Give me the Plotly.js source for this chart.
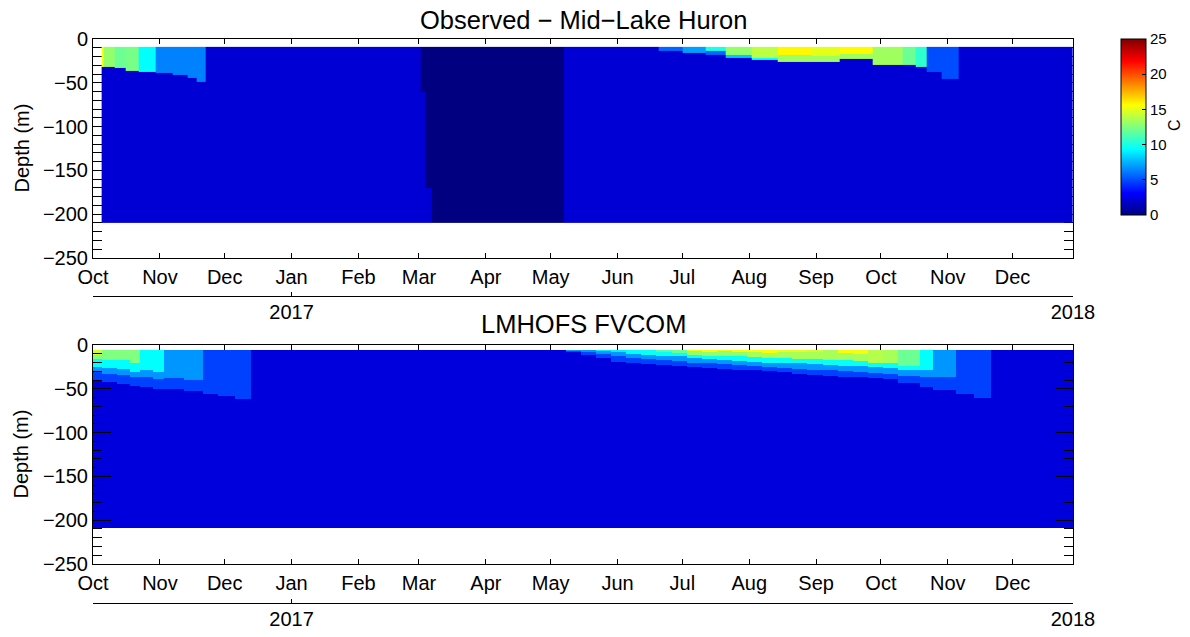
<!DOCTYPE html>
<html>
<head>
<meta charset="utf-8">
<script src="https://cdn.plot.ly/plotly-3.0.1.min.js"></script>
<style>
  html, body { margin: 0; padding: 0; background: #ffffff; }
  #chart { width: 1190px; height: 637px; }
</style>
</head>
<body>
<div id="chart"></div>
<script>
// ---------------- Observed temperature (mooring, Mid-Lake Huron) ----------------
// Time columns (bin edges) and the layer structure of each column:
// layer k fills the water from the layer above down to obsDk (m), with temperature obsTk (°C).
const obsEdges = ['2016-10-05','2016-10-06','2016-10-11','2016-10-16','2016-10-22','2016-10-30',
  '2016-11-07','2016-11-14','2016-11-18','2016-11-22','2017-03-02','2017-03-04','2017-03-07',
  '2017-05-07','2017-06-20','2017-07-01','2017-07-12','2017-07-21','2017-08-02','2017-08-14',
  '2017-08-30','2017-09-12','2017-09-27','2017-10-11','2017-10-17','2017-10-22','2017-10-29',
  '2017-11-06','2017-12-29'];
const obsT1 = [15.5, 13, 12, 12.3, 9.4, 6.3, 6.3, 6.3, 6.3, null, 0, 0, null,
  null, 5.6, 7, 10, 13, 14, 15.8, 15, 15.7, 13.3, 12, 10.5, 5.0, 5.0, null];
const obsD1 = [-32, -32, -33, -36, -38, -39, -41, -44, -49, null, -60, -170, null,
  null, -13.5, -15.5, -14, -17.5, -22, -18, -19, -17, -28.5, -30, -31.5, -38, -46, null];
const obsT2 = [null, null, null, null, null, null, null, null, null, null, null, null, null,
  null, null, null, 5.6, 8, 9.5, 13.3, 13.3, 13.3, null, null, null, null, null, null];
const obsD2 = [null, null, null, null, null, null, null, null, null, null, null, null, null,
  null, null, null, -17.5, -21, -23.5, -26, -26, -23, null, null, null, null, null, null];
const obsDeep = [2.1, 2.1, 2.1, 2.1, 2.1, 2.1, 2.1, 2.1, 2.1, 2.1, 2.1, 2.1, 0,
  2.1, 2.1, 2.1, 2.1, 2.1, 2.1, 2.1, 2.1, 2.1, 2.1, 2.1, 2.1, 2.1, 2.1, 2.1];
const obsTop = -9, obsBottom = -210;

// ---------------- LMHOFS FVCOM model temperature ----------------
const modelEdges = [
  '2016-10-01','2016-10-05','2016-10-12','2016-10-18','2016-10-23','2016-10-29','2016-11-03','2016-11-12','2016-11-21','2016-11-28',
  '2016-12-06','2016-12-13','2017-05-08','2017-05-15','2017-05-22','2017-05-29','2017-06-05','2017-06-12','2017-06-19','2017-06-26',
  '2017-07-03','2017-07-10','2017-07-17','2017-07-24','2017-07-31','2017-08-07','2017-08-14','2017-08-21','2017-08-28','2017-09-04',
  '2017-09-11','2017-09-18','2017-09-25','2017-10-02','2017-10-09','2017-10-19','2017-10-25','2017-11-05','2017-11-13','2017-11-21',
  '2017-12-29'];
// surface (warmest) layer
const modelT1 = [
  14.5, null, null, null, null, null, null, null, null, null,
  null, null, null, null, null, null, null, null, null, null,
  15, 15.5, 15, 15.5, 15.5, 15.5, 15, 15, 14.5, null,
  15.4, 15.4, null, null, null, null, null, null, null, null];
const modelD1 = [
  -11, null, null, null, null, null, null, null, null, null,
  null, null, null, null, null, null, null, null, null, null,
  -7, -8, -7, -8, -8, -9, -8, -8, -8, null,
  -9, -10, null, null, null, null, null, null, null, null];
const modelT2 = [
  12.5, 12.5, 12.5, 12.5, null, null, null, null, null, null,
  null, null, null, null, null, null, null, null, 11.5, 12,
  13, 13, 13, 13, 13.5, 13.5, 13.5, 13.5, 13.5, 13.5,
  13.5, 13.5, 13.8, 13.5, 12, null, null, null, null, null];
const modelD2 = [
  -16, -17, -17, -20, null, null, null, null, null, null,
  null, null, null, null, null, null, null, null, -8, -9,
  -11, -12, -12, -13, -14, -15, -15, -16, -16, -17,
  -17, -18, -20, -21, -24, null, null, null, null, null];
const modelT3 = [
  9.4, 9.4, 9.4, 9.4, 9.4, 9.4, null, null, null, null,
  null, null, null, null, 9, 9, 9.4, 9.6, 9.6, 9.6,
  9.6, 9.6, 9.6, 9.6, 9.6, 9.6, 9.6, 9.6, 9.6, 9.6,
  9.6, 9.6, 9.6, 9.6, 9.6, 9.4, null, null, null, null];
const modelD3 = [
  -25, -26, -27, -31, -29, -31, null, null, null, null,
  null, null, null, null, -7, -8, -10, -11, -12, -13,
  -15, -16, -17, -18, -19, -20, -21, -21, -22, -23,
  -24, -24, -25, -26, -28, -29, null, null, null, null];
const modelT4 = [
  6.8, 6.8, 6.8, 6.8, 6.8, 6.8, 6.8, 6.8, null, null,
  null, null, 6.8, 6.8, 6.8, 6.8, 6.8, 6.8, 6.8, 6.8,
  6.8, 6.8, 6.8, 6.8, 6.8, 6.8, 6.8, 6.8, 6.8, 6.8,
  6.8, 6.8, 6.8, 6.8, 6.8, 6.8, 6.8, null, null, null];
const modelD4 = [
  -31, -33, -34, -37, -37, -38.5, -38, -40, null, null,
  null, null, -7, -8, -10, -13, -15, -16, -17, -18,
  -20, -21, -22, -23, -24, -25, -26, -27, -28, -29,
  -30, -31, -32, -33, -35, -37, -37, null, null, null];
// lowest warm layer (thermocline base)
const modelT5 = [
  4.7, 4.7, 4.7, 4.7, 4.7, 4.7, 4.7, 4.7, 4.7, 4.7,
  4.7, null, 4.7, 4.7, 4.7, 4.7, 4.7, 4.7, 4.7, 4.7,
  4.7, 4.7, 4.7, 4.7, 4.7, 4.7, 4.7, 4.7, 4.7, 4.7,
  4.7, 4.7, 4.7, 4.7, 4.7, 4.7, 4.7, 4.7, 4.7, null];
const modelD5 = [
  -40, -42, -44, -47, -48, -50, -50, -53, -56, -58,
  -62, null, -8, -11, -15, -19, -21, -22, -23, -24,
  -25, -26, -27, -28, -29, -30, -31, -32.5, -34, -35,
  -36, -37, -38, -39, -43, -48, -51, -56, -60, null];
const modelDeep = 2.3;
const modelTop = -5.7, modelBottom = -209;

// Axis ticks
const depthTicks = [-250, -200, -150, -100, -50, 0];
const yearTickVals = ['2017-01-01', '2017-12-28 23:00'];
const yearTickText = ['2017', '2018'];
const colorTicks = [0, 5, 10, 15, 20, 25];
const timeRange = ['2016-10-01', '2017-12-29'];

// MATLAB-style jet colour map
const jet = [[0, 'rgb(0,0,128)'], [0.125, 'rgb(0,0,255)'], [0.375, 'rgb(0,255,255)'],
             [0.625, 'rgb(255,255,0)'], [0.875, 'rgb(255,0,0)'], [1, 'rgb(128,0,0)']];

// Depth bin edges (1 m cells) from the bottom of the record up to its top
function depthEdges(top, bottom) {
  const e = [];
  for (let d = bottom; d < top; d += 1) e.push(d);
  e.push(top);
  return e;
}

// Fill the depth x time table from each column's layers
function layerTable(yEdges, nCols, temps, depths, deep) {
  const z = [];
  for (let r = 0; r < yEdges.length - 1; r++) {
    const yc = (yEdges[r] + yEdges[r + 1]) / 2;
    const row = [];
    for (let c = 0; c < nCols; c++) {
      let v = Array.isArray(deep) ? deep[c] : deep;
      for (let k = 0; k < temps.length; k++) {
        const t = temps[k][c], d = depths[k][c];
        if (t !== null && d !== null && yc >= d) { v = t; break; }
      }
      row.push(v);
    }
    z.push(row);
  }
  return z;
}

const obsY = depthEdges(obsTop, obsBottom);
const obsZ = layerTable(obsY, obsEdges.length - 1, [obsT1, obsT2], [obsD1, obsD2], obsDeep);
const modelY = depthEdges(modelTop, modelBottom);
const modelZ = layerTable(modelY, modelEdges.length - 1,
  [modelT1, modelT2, modelT3, modelT4, modelT5],
  [modelD1, modelD2, modelD3, modelD4, modelD5], modelDeep);

const W = 1190, H = 637;
const fx = p => p / W;
const fy = p => 1 - p / H;
const FONT = 'Liberation Sans, Arial, Helvetica, sans-serif';

const traces = [
  {
    type: 'heatmap', x: obsEdges, y: obsY, z: obsZ, xaxis: 'x', yaxis: 'y',
    colorscale: jet, zmin: 0, zmax: 25, zsmooth: false, hoverinfo: 'skip',
    showscale: true,
    colorbar: {
      x: fx(1121), xanchor: 'left', y: fy(39), yanchor: 'top',
      len: 176 / H, lenmode: 'fraction', thickness: 25, thicknessmode: 'pixels',
      xpad: 0, ypad: 0, outlinewidth: 1, outlinecolor: '#000', borderwidth: 0,
      ticks: 'inside', ticklen: 4, tickwidth: 1, tickcolor: '#000',
      tickvals: colorTicks, tickfont: { family: FONT, size: 15, color: '#000' }
    }
  },
  {
    type: 'heatmap', x: modelEdges, y: modelY, z: modelZ, xaxis: 'x2', yaxis: 'y2',
    colorscale: jet, zmin: 0, zmax: 25, zsmooth: false, hoverinfo: 'skip', showscale: false
  },
  // carriers for the year axes
  { type: 'scatter', x: [], y: [], xaxis: 'x3', yaxis: 'y', hoverinfo: 'skip' },
  { type: 'scatter', x: [], y: [], xaxis: 'x4', yaxis: 'y2', hoverinfo: 'skip' }
];

function monthAxis(domain, anchor, layer) {
  return {
    domain: domain, anchor: anchor, type: 'date', range: timeRange,
    tick0: '2016-10-01', dtick: 'M1', tickformat: '%b',
    ticks: 'inside', ticklen: 5, tickwidth: 1, tickcolor: '#000',
    showline: true, linecolor: '#000', linewidth: 1, mirror: 'ticks',
    showgrid: false, zeroline: false, layer: layer, automargin: false,
    ticklabelstandoff: 1,
    tickfont: { family: FONT, size: 20, color: '#000' }
  };
}
function depthAxis(domain, anchor, layer) {
  return {
    domain: domain, anchor: anchor, range: [-250, 0], tickvals: depthTicks,
    ticks: 'inside', ticklen: 18, tickwidth: 1, tickcolor: '#000',
    minor: { dtick: 10, tick0: 0, ticks: 'inside', ticklen: 9, tickwidth: 1, tickcolor: '#000', showgrid: false },
    showline: true, linecolor: '#000', linewidth: 1, mirror: 'ticks',
    showgrid: false, zeroline: false, layer: layer, automargin: false,
    tickfont: { family: FONT, size: 20, color: '#000' }
  };
}
function yearAxis(overlay, pos) {
  return {
    overlaying: overlay, anchor: 'free', position: pos, side: 'bottom', type: 'date',
    range: timeRange, tickvals: yearTickVals, ticktext: yearTickText,
    ticks: 'inside', ticklen: 4, tickwidth: 1, tickcolor: '#000',
    showline: true, linecolor: '#000', linewidth: 1, showgrid: false, zeroline: false,
    automargin: false, ticklabelstandoff: -2,
    tickfont: { family: FONT, size: 20, color: '#000' }
  };
}

const xDom = [fx(93), fx(1073)];
const layout = {
  width: W, height: H, margin: { l: 0, r: 0, t: 0, b: 0 },
  paper_bgcolor: '#fff', plot_bgcolor: 'rgba(0,0,0,0)', showlegend: false,
  font: { family: FONT, size: 20, color: '#000' },
  xaxis: monthAxis(xDom, 'y', 'below traces'),
  yaxis: depthAxis([fy(258), fy(39)], 'x', 'below traces'),
  xaxis2: monthAxis(xDom, 'y2', 'above traces'),
  yaxis2: depthAxis([fy(564), fy(345)], 'x2', 'above traces'),
  xaxis3: yearAxis('x', fy(296)),
  xaxis4: yearAxis('x2', fy(603)),
  annotations: [
    { text: 'Observed − Mid−Lake Huron', xref: 'paper', yref: 'paper', x: fx(583), y: fy(20),
      xanchor: 'center', yanchor: 'middle', showarrow: false, font: { family: FONT, size: 25.5, color: '#000' } },
    { text: 'LMHOFS FVCOM', xref: 'paper', yref: 'paper', x: fx(583), y: fy(324),
      xanchor: 'center', yanchor: 'middle', showarrow: false, font: { family: FONT, size: 25.5, color: '#000' } },
    { text: 'Depth (m)', xref: 'paper', yref: 'paper', x: fx(21), y: fy(148.5), textangle: -90,
      xanchor: 'center', yanchor: 'middle', showarrow: false, font: { family: FONT, size: 20, color: '#000' } },
    { text: 'Depth (m)', xref: 'paper', yref: 'paper', x: fx(21), y: fy(454.5), textangle: -90,
      xanchor: 'center', yanchor: 'middle', showarrow: false, font: { family: FONT, size: 20, color: '#000' } },
    { text: 'C', xref: 'paper', yref: 'paper', x: fx(1174), y: fy(125), textangle: -90,
      xanchor: 'center', yanchor: 'middle', showarrow: false, font: { family: FONT, size: 16, color: '#000' } }
  ]
};

Plotly.newPlot('chart', traces, layout, { displayModeBar: false, staticPlot: true });
</script>
</body>
</html>
